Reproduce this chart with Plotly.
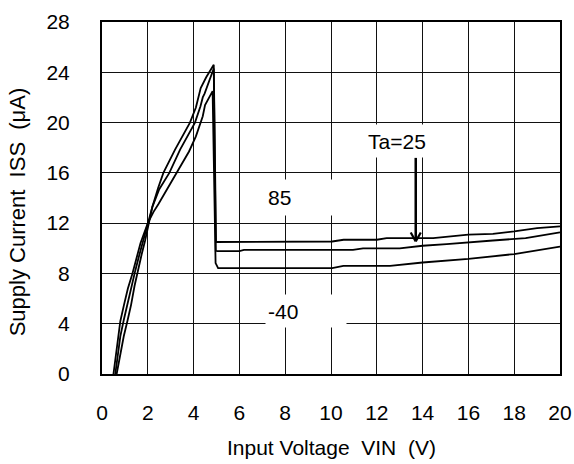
import plotly.graph_objects as go

# ---- data ----
x_85 = [0.64, 0.78, 0.95, 1.12, 1.27, 1.42, 1.57, 1.73, 1.88, 2.03, 2.20, 2.45, 2.68, 3.19, 3.50, 3.84,
        4.10, 4.25, 4.31, 4.55, 4.88, 4.98, 5.05, 10.05, 10.55, 12.0, 12.43, 14.46, 16.0, 17.07, 18.0, 19.0, 20.0]
y_85 = [0.0, 1.5, 3.0, 4.3, 5.5, 7.0, 8.3, 9.5, 10.6, 12.0, 13.3, 14.8, 16.0, 17.85, 18.9, 20.0,
        21.2, 22.2, 22.75, 23.6, 24.6, 10.5, 10.5, 10.54, 10.68, 10.68, 10.81, 10.81, 11.08, 11.15, 11.34, 11.6, 11.74]

x_25 = [0.58, 0.68, 0.80, 0.95, 1.10, 1.28, 1.45, 1.62, 1.80, 2.00, 2.20, 2.50, 2.94, 3.41, 3.75, 4.06,
        4.30, 4.40, 4.48, 4.65, 4.88, 4.97, 5.05, 6.0, 6.2, 10.96, 11.4, 13.0, 14.0, 15.05, 16.0, 17.07, 18.5, 20.0]
y_25 = [0.0, 1.5, 3.0, 4.3, 5.5, 7.0, 8.2, 9.4, 10.6, 12.0, 13.3, 14.7, 16.0, 17.85, 19.0, 20.0,
        21.3, 22.0, 22.3, 23.2, 24.3, 9.8, 9.78, 9.78, 9.88, 9.88, 10.0, 10.0, 10.2, 10.33, 10.49, 10.62, 10.81, 11.26]

x_m40 = [0.50, 0.60, 0.70, 0.80, 0.96, 1.13, 1.33, 1.50, 1.68, 2.00, 2.25, 2.46, 2.90, 3.30, 3.80, 4.10,
         4.30, 4.40, 4.50, 4.72, 4.83, 4.96, 5.07, 10.05, 10.54, 12.58, 14.0, 16.0, 17.07, 18.0, 20.0]
y_m40 = [0.0, 1.5, 3.0, 4.2, 5.5, 6.8, 8.0, 9.2, 10.4, 12.0, 12.9, 13.5, 14.9, 16.1, 17.7, 18.9,
         20.0, 20.5, 21.4, 22.1, 22.5, 8.82, 8.42, 8.42, 8.6, 8.6, 8.87, 9.16, 9.35, 9.54, 10.14]

x_ticks = list(range(0, 21, 2))
y_ticks = list(range(0, 29, 4))

FONT = "Arial, Liberation Sans, sans-serif"
FS = 21

fig = go.Figure()
for xs, ys, nm in [(x_85, y_85, "85"), (x_25, y_25, "25"), (x_m40, y_m40, "-40")]:
    fig.add_trace(go.Scatter(x=xs, y=ys, mode="lines", name=nm,
                             line=dict(color="black", width=1.8), showlegend=False,
                             hoverinfo="skip"))

axis_common = dict(showgrid=True, gridcolor="#111111", gridwidth=1,
                   showline=True, linecolor="black", linewidth=2, mirror=True,
                   ticks="", zeroline=False, automargin=False,
                   tickfont=dict(family=FONT, size=FS, color="black"))

fig.update_xaxes(range=[0, 20], tickvals=x_ticks, ticklabelstandoff=19, **axis_common)
fig.update_yaxes(range=[0, 28], tickvals=y_ticks, ticklabelstandoff=26, **axis_common)

# labels with white boxes
fig.add_annotation(x=8.9, y=14.05, xref="x", yref="y", text="85", showarrow=False,
                   font=dict(family=FONT, size=FS, color="black"),
                   width=76, height=31, align="left", bgcolor="white", borderpad=2)
fig.add_annotation(x=8.9, y=5.0, xref="x", yref="y", text="-40", showarrow=False,
                   font=dict(family=FONT, size=FS, color="black"),
                   width=76, height=28, align="left", bgcolor="white", borderpad=2)
fig.add_annotation(x=12.9, y=18.5, xref="x", yref="y", text="Ta=25", showarrow=False,
                   font=dict(family=FONT, size=FS, color="black"),
                   width=92, height=28, align="center", bgcolor="white", borderpad=2)

# arrow for Ta=25
ax_x = 13.7
fig.add_shape(type="line", x0=ax_x, x1=ax_x, y0=17.2, y1=10.6, xref="x", yref="y",
              line=dict(color="black", width=2.5))
fig.add_shape(type="line", x0=ax_x - 0.22, x1=ax_x, y0=11.25, y1=10.55, xref="x", yref="y",
              line=dict(color="black", width=2.2))
fig.add_shape(type="line", x0=ax_x + 0.22, x1=ax_x, y0=11.25, y1=10.55, xref="x", yref="y",
              line=dict(color="black", width=2.2))

# axis titles
fig.add_annotation(x=0.5, y=-0.21, xref="paper", yref="paper", text="Input Voltage  VIN  (V)",
                   showarrow=False, font=dict(family=FONT, size=21, color="black"),
                   xanchor="center", yanchor="middle")
fig.add_annotation(x=-0.185, y=0.46, xref="paper", yref="paper", text="Supply Current  ISS  (μA)",
                   showarrow=False, textangle=-90, font=dict(family=FONT, size=22, color="black"),
                   xanchor="center", yanchor="middle")

fig.update_layout(width=574, height=464, margin=dict(l=102, r=14, t=22, b=90),
                  paper_bgcolor="white", plot_bgcolor="white")

fig.write_html("out.html", config={"displayModeBar": False},
               post_script="document.body.style.margin='0px';")
